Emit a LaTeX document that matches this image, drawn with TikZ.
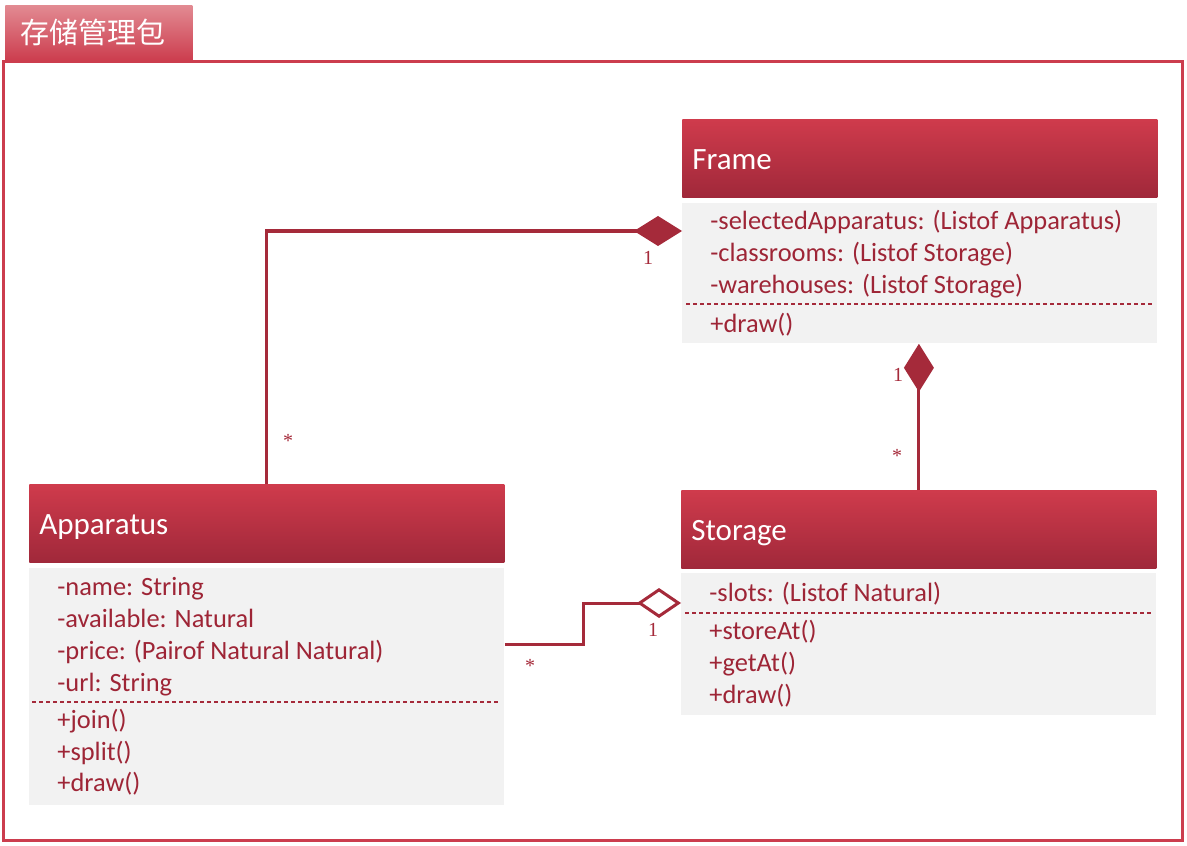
\documentclass[tikz,border=0pt]{standalone}
\usepackage{fontspec}
\setmainfont{Carlito}
\newfontfamily\cjkfont{Noto Sans CJK SC}
\newfontfamily\multfont{Liberation Serif}
\usetikzlibrary{arrows.meta}

\definecolor{umlred}{HTML}{A52A3A}
\definecolor{umltext}{HTML}{9E2536}
\definecolor{headtop}{HTML}{CF3B4C}
\definecolor{headbot}{HTML}{A0283A}
\definecolor{pkgred}{HTML}{CC3D4E}
\definecolor{tabtop}{HTML}{E28A92}
\definecolor{bodygray}{HTML}{F2F2F2}

\begin{document}
\begin{tikzpicture}[x=0.5pt, y=-0.5pt,
  >={Diamond[length=24pt,width=15pt]},
  pkgtab/.style={anchor=north west, inner xsep=7.5pt, inner ysep=0pt,
    text width=78.5pt, minimum height=27.5pt, align=left,
    top color=tabtop, bottom color=pkgred, text=white,
    font=\cjkfont\fontsize{14.5}{16}\selectfont},
  pkgframe/.style={draw=pkgred, line width=1.5pt},
  classhead/.style={anchor=north west, inner xsep=5pt, inner ysep=0pt,
    text width=227.5pt, minimum height=39pt, align=left,
    text height=11.5pt, text depth=0.5pt,
    top color=headtop, bottom color=headbot, text=white,
    font=\fontsize{15.5}{18}\selectfont},
  classbody/.style={anchor=north west, inner sep=0pt, fill=bodygray,
    minimum width=237.5pt},
  member/.style={anchor=west, inner sep=0pt, text=umltext,
    text height=10.5pt, text depth=3pt,
    font=\fontsize{13.2}{16}\selectfont},
  sepline/.style={draw=umlred, line width=1pt, dash pattern=on 2pt off 1.5pt},
  assoc/.style={draw=umlred, line width=1.5pt},
  mult/.style={inner sep=0pt, text=umlred, font=\multfont\fontsize{10}{11}\selectfont}]
\useasboundingbox (0,0) rectangle (1187,845);
%
\draw[pkgframe] (3,62) rectangle (1182,840);
\draw (5,5) node[pkgtab] (pkgname) {存储管理包};
%
\draw (682,119) node[classhead] (framehead) {Frame};
\draw (682,203) node[classbody, minimum height=70pt] (framebody) {};
\draw (framebody.north west)++(28,19) node[member] (fa1) {-selectedApparatus: (Listof Apparatus)};
\draw (fa1.west)++(0,32) node[member] (fa2) {-classrooms: (Listof Storage)};
\draw (fa2.west)++(0,32) node[member] (fa3) {-warehouses: (Listof Storage)};
\path[sepline] (framebody.north west)++(4,101) -- ++(467,0);
\draw (fa3.west)++(0,39) node[member] (fm1) {+draw()};
%
\draw (29,484) node[classhead] (apphead) {Apparatus};
\draw (29,568) node[classbody, minimum height=118.5pt] (appbody) {};
\draw (appbody.north west)++(28,20) node[member] (aa1) {-name: String};
\draw (aa1.west)++(0,32) node[member] (aa2) {-available: Natural};
\draw (aa2.west)++(0,32) node[member] (aa3) {-price: (Pairof Natural Natural)};
\draw (aa3.west)++(0,32) node[member] (aa4) {-url: String};
\path[sepline] (appbody.north west)++(3,134) -- ++(468,0);
\draw (aa4.west)++(0,37) node[member] (am1) {+join()};
\draw (am1.west)++(0,32) node[member] (am2) {+split()};
\draw (am2.west)++(0,31) node[member] (am3) {+draw()};
%
\draw (681,490) node[classhead] (storhead) {Storage};
\draw (681,573) node[classbody, minimum height=71pt] (storbody) {};
\draw (storbody.north west)++(28,21) node[member] (sa1) {-slots: (Listof Natural)};
\path[sepline] (storbody.north west)++(4,40) -- ++(467,0);
\draw (sa1.west)++(0,38) node[member] (sm1) {+storeAt()};
\draw (sm1.west)++(0,32) node[member] (sm2) {+getAt()};
\draw (sm2.west)++(0,32) node[member] (sm3) {+draw()};
%
\path[assoc, ->] (apphead.north) |- (framebody.west |- 0,231);
\draw (648,258) node[mult] (m1) {1};
\draw (288,441) node[mult] (m2) {*};
%
\path[assoc, ->] (storhead.north) -- (storhead.north |- framebody.south);
\draw (898,375) node[mult] (m3) {1};
\draw (897,456) node[mult] (m4) {*};
%
\path[assoc, -{Diamond[open, fill=white, length=22pt, width=15pt]}]
  (appbody.east |- 0,644) -- ++(79,0) |- (storbody.west |- 0,603);
\draw (653,630) node[mult] (m5) {1};
\draw (530,666) node[mult] (m6) {*};
\end{tikzpicture}
\end{document}
